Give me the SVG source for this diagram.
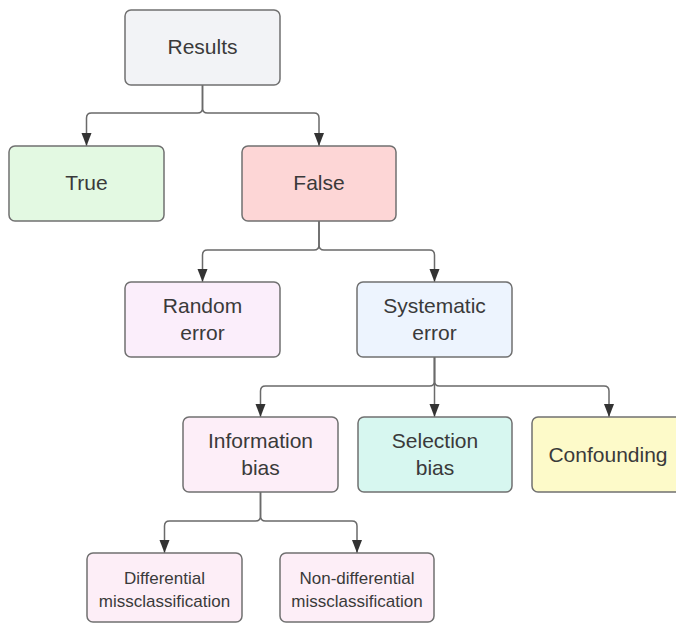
<svg xmlns="http://www.w3.org/2000/svg" width="676" height="625" viewBox="0 0 676 625">
  <style>
    .box { stroke: #707070; stroke-width: 1.5; }
    .lbl { font-family: "Liberation Sans", Arial, sans-serif; font-size: 21px; fill: #3a3a3a; text-anchor: middle; }
    .sm { font-size: 17px; }
    .edge { fill: none; stroke: #6a6a6a; stroke-width: 1.5; marker-end: url(#arrow); }
  </style>
  <defs>
    <marker id="arrow" markerUnits="userSpaceOnUse" markerWidth="13" markerHeight="11" viewBox="0 0 13 11" refX="13" refY="5.5" orient="auto">
      <path d="M0 0.5 L13 5.5 L0 10.5 Z" fill="#333"/>
    </marker>
  </defs>
  <rect width="676" height="625" fill="#ffffff"/>

  <g id="connectors">
    <!-- Results to True / False -->
    <path class="edge" d="M202.5 85 V108 Q202.5 113 197.5 113 H91.5 Q86.5 113 86.5 118 V146"/>
    <path class="edge" d="M202.5 85 V108 Q202.5 113 207.5 113 H314 Q319 113 319 118 V146"/>
    <!-- False to Random / Systematic -->
    <path class="edge" d="M319 221 V245 Q319 250 314 250 H207.5 Q202.5 250 202.5 255 V282"/>
    <path class="edge" d="M319 221 V245 Q319 250 324 250 H429.5 Q434.5 250 434.5 255 V282"/>
    <!-- Systematic to Information / Selection / Confounding -->
    <path class="edge" d="M434.5 357 V381 Q434.5 386 429.5 386 H265.5 Q260.5 386 260.5 391 V417"/>
    <path class="edge" d="M434.5 357 V417"/>
    <path class="edge" d="M434.5 357 V381 Q434.5 386 439.5 386 H604 Q609 386 609 391 V417"/>
    <!-- Information bias to the misclassification types -->
    <path class="edge" d="M260.5 492 V516 Q260.5 521 255.5 521 H169.5 Q164.5 521 164.5 526 V553"/>
    <path class="edge" d="M260.5 492 V516 Q260.5 521 265.5 521 H352 Q357 521 357 526 V553"/>
  </g>

  <g id="results">
    <rect class="box" x="125" y="10" width="155" height="75" rx="6" fill="#f2f3f6"/>
    <text class="lbl" x="202.5" y="54">Results</text>
  </g>
  <g id="true">
    <rect class="box" x="9" y="146" width="155" height="75" rx="6" fill="#e3f9e2" stroke="#8aa58a"/>
    <text class="lbl" x="86.5" y="190">True</text>
  </g>
  <g id="false">
    <rect class="box" x="242" y="146" width="154" height="75" rx="6" fill="#fdd6d6"/>
    <text class="lbl" x="319" y="190">False</text>
  </g>
  <g id="random-error">
    <rect class="box" x="125" y="282" width="155" height="75" rx="6" fill="#fbeefb"/>
    <text class="lbl" x="202.5" y="313">Random</text>
    <text class="lbl" x="202.5" y="340">error</text>
  </g>
  <g id="systematic-error">
    <rect class="box" x="357" y="282" width="155" height="75" rx="6" fill="#edf4fe"/>
    <text class="lbl" x="434.5" y="313">Systematic</text>
    <text class="lbl" x="434.5" y="340">error</text>
  </g>
  <g id="information-bias">
    <rect class="box" x="183" y="417" width="155" height="75" rx="6" fill="#fdeef8"/>
    <text class="lbl" x="260.5" y="448">Information</text>
    <text class="lbl" x="260.5" y="475">bias</text>
  </g>
  <g id="selection-bias">
    <rect class="box" x="358" y="417" width="154" height="75" rx="6" fill="#d7f7f0"/>
    <text class="lbl" x="435" y="448">Selection</text>
    <text class="lbl" x="435" y="475">bias</text>
  </g>
  <g id="confounding">
    <rect class="box" x="532" y="417" width="154" height="75" rx="6" fill="#fdfac9"/>
    <text class="lbl" x="608" y="462">Confounding</text>
  </g>
  <g id="differential">
    <rect class="box" x="87" y="553" width="155" height="69" rx="6" fill="#fdeef7"/>
    <text class="lbl sm" x="164.5" y="584">Differential</text>
    <text class="lbl sm" x="164.5" y="607">missclassification</text>
  </g>
  <g id="non-differential">
    <rect class="box" x="280" y="553" width="154" height="69" rx="6" fill="#fdeef7"/>
    <text class="lbl sm" x="357" y="584">Non-differential</text>
    <text class="lbl sm" x="357" y="607">missclassification</text>
  </g>
</svg>
